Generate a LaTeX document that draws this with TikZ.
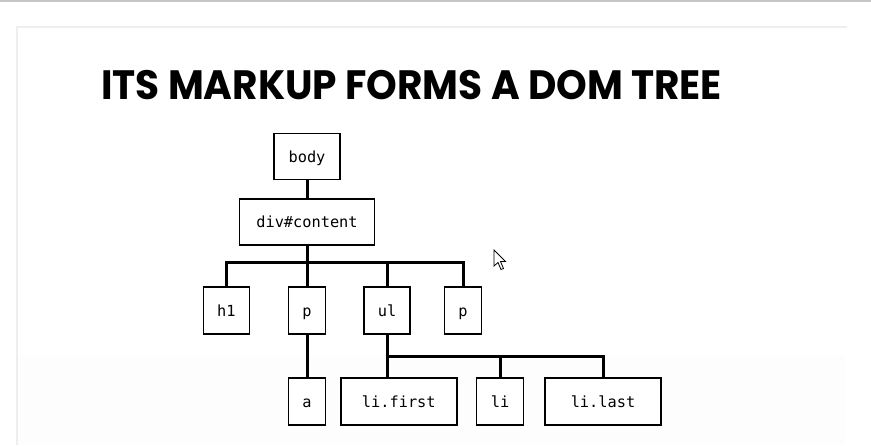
\documentclass[tikz,border=0pt]{standalone}
\usepackage{fontspec}
\newfontfamily\titlefont{Poppins}
\newfontfamily\codefont{DejaVu Sans Mono}
\definecolor{rulegray}{HTML}{C6C6C6}
\definecolor{panelline}{HTML}{EEEEEE}
\definecolor{bandgray}{HTML}{FDFDFD}
\begin{document}
\begin{tikzpicture}[x=1pt,y=-1pt,
  elem/.style={draw=black, line width=1.4pt, fill=white, inner sep=0pt,
    text height=13.4pt, text depth=2pt,
    minimum height=47pt, font=\codefont\fontsize{15.3}{18}\selectfont},
  link/.style={line width=3pt, line cap=rect}]
  \useasboundingbox (0,0) rectangle (871,445);
  % page background and slide panel
  \fill[white] (0,0) rectangle (871,445);
  \fill[rulegray] (0,0) rectangle (871,1.6);
  \fill[bandgray] (18,355) rectangle (845,445);
  \draw[panelline, line width=1.2pt] (17,445) -- (17,27) -- (847,27);

  % title
  \node[anchor=base west, inner sep=0pt,
    font=\titlefont\bfseries\fontsize{41}{45}\selectfont] (title) at (101,99)
    {\scalebox{0.952}[1]{ITS MARKUP FORMS A DOM TREE}};

  % element boxes
  \node[elem, minimum width=66pt, minimum height=46pt] (body) at (307,156.5) {body};
  \node[elem, minimum width=135pt, minimum height=46pt] (div) at (307,222) {div\#content};
  \node[elem, minimum width=46pt] (h1) at (226.3,310.3) {h1};
  \node[elem, minimum width=36.5pt] (p1) at (307,310.3) {p};
  \node[elem, minimum width=46pt] (ul) at (387,310.3) {ul};
  \node[elem, minimum width=37.5pt] (p2) at (463,310.3) {p};
  \node[elem, minimum width=37pt] (a) at (307,401.3) {a};
  \node[elem, minimum width=116pt] (lifirst) at (398.8,401.3) {li.first};
  \node[elem, minimum width=46.6pt] (li) at (500,401.3) {li};
  \node[elem, minimum width=116pt] (lilast) at (603,401.3) {li.last};

  % branch points
  \coordinate (bar1) at (307,262);
  \coordinate (bar2) at (387,356);

  % connectors
  \draw[link] (body.south) -- (div.north);
  \draw[link] (div.south) -- (bar1);
  \draw[link] (h1.north) -- (h1.north |- bar1) -- (p2.north |- bar1) -- (p2.north);
  \draw[link] (p1.north) -- (p1.north |- bar1);
  \draw[link] (ul.north) -- (ul.north |- bar1);
  \draw[link] (p1.south) -- (a.north);
  \draw[link] (ul.south) -- (bar2) -- (lilast.north |- bar2) -- (lilast.north);
  \draw[link] (bar2) -- (bar2 |- lifirst.north);
  \draw[link] (li.north) -- (li.north |- bar2);

  % mouse pointer
  \draw[black, fill=white, line width=0.8pt, line join=miter]
    (494,250) -- (494,266) -- (498,262.5) -- (501,269.5) -- (503.5,268.5)
    -- (500.5,261.5) -- (505.5,261.5) -- cycle;
\end{tikzpicture}
\end{document}
